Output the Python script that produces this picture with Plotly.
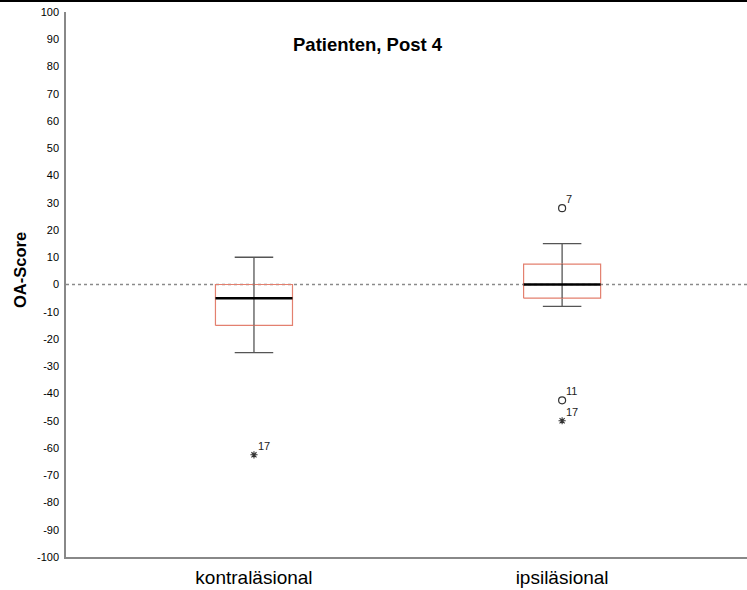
import plotly.graph_objects as go

# Summary statistics per group (OA-Score)
groups = ["kontraläsional", "ipsiläsional"]
whisker_low = [-25, -8]
q1 = [-15, -5]
median = [-5, 0]
q3 = [0, 7.5]
whisker_high = [10, 15]

# Outliers: (group index, value, case id, kind)
out_group = [0, 1, 1, 1]
out_value = [-62.5, 28, -42.5, -50]
out_label = ["17", "7", "11", "17"]
out_kind = ["extreme", "mild", "mild", "extreme"]

y_ticks = list(range(-100, 101, 10))
y_ticktext = [str(v) for v in y_ticks]  # plain hyphen minus

BOX_HALF = 0.125
CAP_HALF = 0.0625
box_color = "#e3806f"
whisk_color = "#555555"

fig = go.Figure()

for i in range(len(groups)):
    # whiskers (vertical)
    fig.add_trace(go.Scatter(
        x=[i, i, None, i, i], y=[whisker_low[i], q1[i], None, q3[i], whisker_high[i]],
        mode="lines", line=dict(color=whisk_color, width=1.3), hoverinfo="skip", showlegend=False))
    # whisker caps
    fig.add_trace(go.Scatter(
        x=[i - CAP_HALF, i + CAP_HALF, None, i - CAP_HALF, i + CAP_HALF],
        y=[whisker_low[i], whisker_low[i], None, whisker_high[i], whisker_high[i]],
        mode="lines", line=dict(color=whisk_color, width=1.3), hoverinfo="skip", showlegend=False))
    # box
    fig.add_trace(go.Scatter(
        x=[i - BOX_HALF, i + BOX_HALF, i + BOX_HALF, i - BOX_HALF, i - BOX_HALF],
        y=[q1[i], q1[i], q3[i], q3[i], q1[i]],
        mode="lines", line=dict(color=box_color, width=1.2), hoverinfo="skip", showlegend=False))
    # whisker line inside box
    fig.add_trace(go.Scatter(
        x=[i, i], y=[q1[i], q3[i]],
        mode="lines", line=dict(color=whisk_color, width=1.3), hoverinfo="skip", showlegend=False))
    # median
    fig.add_trace(go.Scatter(
        x=[i - BOX_HALF, i + BOX_HALF], y=[median[i], median[i]],
        mode="lines", line=dict(color="black", width=2.5), hoverinfo="skip", showlegend=False))

# outliers
for g, v, lab, kind in zip(out_group, out_value, out_label, out_kind):
    if kind == "mild":
        marker = dict(symbol="circle-open", size=7, color="#333333", line=dict(width=1.2))
    else:
        marker = dict(symbol="asterisk-open", size=6, color="#333333", line=dict(width=1.1))
    fig.add_trace(go.Scatter(x=[g], y=[v], mode="markers", marker=marker,
                             hoverinfo="skip", showlegend=False))
    fig.add_annotation(x=g, y=v, text=lab, showarrow=False, xanchor="left", yanchor="bottom",
                       xshift=2, yshift=1, font=dict(size=11, color="#222222"))

# reference line at zero
fig.add_shape(type="line", xref="paper", x0=0, x1=1, yref="y", y0=0, y1=0,
              line=dict(color="#8a8a8a", width=1.6, dash="dot"), layer="below")

# top border band
fig.add_shape(type="rect", xref="paper", yref="paper", x0=-0.2, x1=1.01,
              y0=1 + 10 / 545, y1=1 + 13 / 545, fillcolor="black", line=dict(width=0))

fig.add_annotation(text="<b>Patienten, Post 4</b>", xref="paper", yref="paper",
                   x=(368 - 66) / 681, y=1 - (44 - 12) / 545, showarrow=False,
                   xanchor="center", yanchor="middle",
                   font=dict(size=18.5, color="black"))

fig.add_annotation(text="<b>OA-Score</b>", xref="paper", yref="paper",
                   x=-(66 - 20) / 681, y=(557 - 270) / 545, showarrow=False, textangle=-90,
                   xanchor="center", yanchor="middle",
                   font=dict(size=16.5, color="black"))

fig.update_layout(
    width=747, height=590,
    margin=dict(l=66, r=0, t=12, b=33),
    plot_bgcolor="white", paper_bgcolor="white",
    font=dict(family="Liberation Sans, Arial, sans-serif", color="black"),
    xaxis=dict(range=[-0.61, 1.6], tickvals=[0, 1], ticktext=groups, showgrid=False,
               zeroline=False, showline=True, linecolor="#888888", linewidth=1.5,
               ticks="", tickfont=dict(size=19, color="black"), ticklabelstandoff=2),
    yaxis=dict(range=[-100, 100], tickvals=y_ticks, ticktext=y_ticktext, showgrid=False,
               zeroline=False, showline=True, linecolor="#888888", linewidth=1.5, ticks="",
               tickfont=dict(size=11, color="black"), ticklabelstandoff=3),
)

fig.write_html("out.html")
